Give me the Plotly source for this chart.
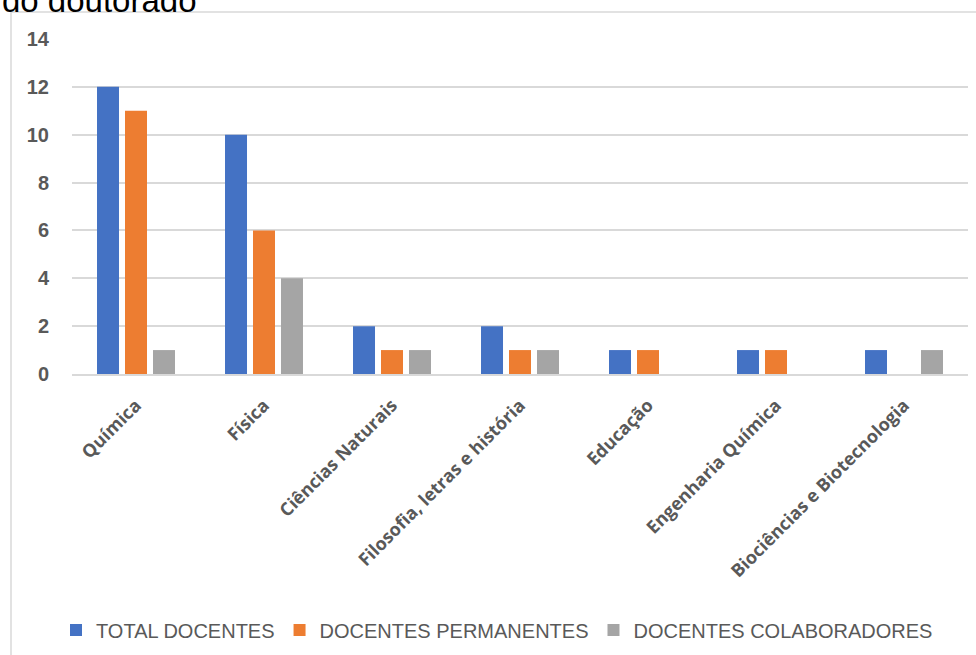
import plotly.graph_objects as go

categories = ["Química", "Física", "Ciências Naturais", "Filosofia, letras e história",
              "Educação", "Engenharia Química", "Biociências e Biotecnologia"]
total_docentes = [12, 10, 2, 2, 1, 1, 1]
docentes_permanentes = [11, 6, 1, 1, 1, 1, 0]
docentes_colaboradores = [1, 4, 1, 1, 0, 0, 1]
series_names = ["TOTAL DOCENTES", "DOCENTES PERMANENTES", "DOCENTES COLABORADORES"]
series_colors = ["#4472C4", "#ED7D31", "#A5A5A5"]
y_ticks = [0, 2, 4, 6, 8, 10, 12, 14]

W, H = 976, 655
L, R, T, B = 72, 8, 39, 280
pw, ph = W - L - R, H - T - B

def px_x(p):
    return (p - L) / pw

def px_y(p):
    return (H - B - p) / ph

fig = go.Figure()
for name, vals, col in zip(series_names,
                           [total_docentes, docentes_permanentes, docentes_colaboradores],
                           series_colors):
    fig.add_trace(go.Bar(x=categories, y=vals, name=name, marker=dict(color=col, line=dict(width=0))))

fig.update_layout(
    width=W, height=H,
    margin=dict(l=L, r=R, t=T, b=B),
    paper_bgcolor="white", plot_bgcolor="white",
    barmode="group", bargap=0.344, bargroupgap=0.214,
    font=dict(family="Liberation Sans, Arial, sans-serif", color="#595959"),
    showlegend=True,
    legend=dict(orientation="h", x=px_x(497), xanchor="center", y=px_y(630), yanchor="middle",
                font=dict(size=20, color="#595959"), itemwidth=30, tracegroupgap=0,
                bgcolor="rgba(0,0,0,0)"),
    xaxis=dict(tickangle=-45,
               tickfont=dict(size=18, color="#595959", weight="bold", family="Open Sans, sans-serif"),
               showgrid=False, showline=True, linecolor="#d9d9d9", linewidth=1.5,
               ticks="", ticklabelstandoff=12),
    yaxis=dict(range=[0, 14], tickvals=y_ticks, ticktext=[str(v) for v in y_ticks],
               tickfont=dict(size=20, color="#595959", weight="bold"),
               showgrid=True, gridcolor="#d9d9d9", gridwidth=1.5, zeroline=False,
               showline=False, ticks="", ticklabelstandoff=22),
    shapes=[dict(type="rect", xref="paper", yref="paper",
                 x0=px_x(11), x1=px_x(1000), y0=px_y(700), y1=px_y(12),
                 line=dict(color="#d9d9d9", width=1.5), fillcolor="rgba(0,0,0,0)", layer="below")],
    annotations=[dict(text="do doutorado", xref="paper", yref="paper",
                      x=px_x(0), y=px_y(21), xanchor="left", yanchor="bottom",
                      showarrow=False, font=dict(size=33, color="#000000",
                                                 family="Liberation Sans, Arial, sans-serif"))],
)

fig.write_html("out.html")
